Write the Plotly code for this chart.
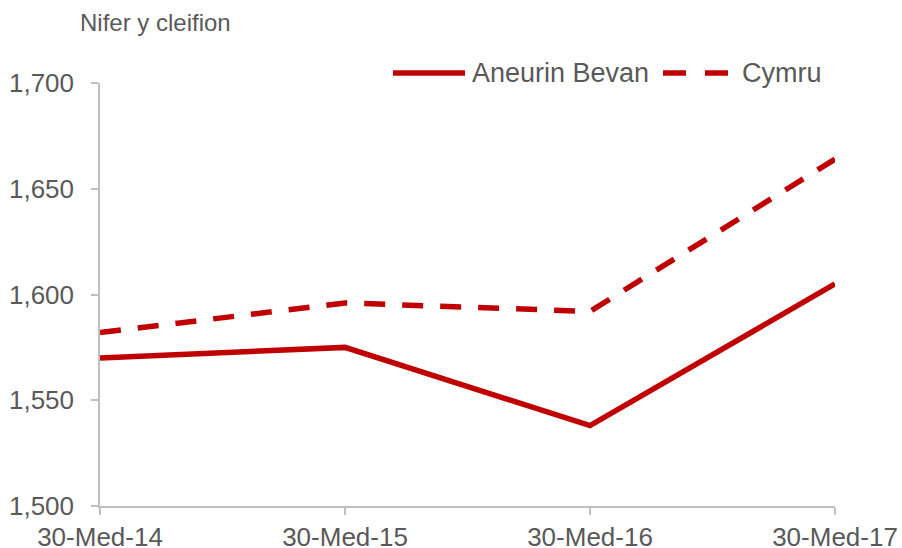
import plotly.graph_objects as go

categories = ["30-Med-14", "30-Med-15", "30-Med-16", "30-Med-17"]
aneurin_bevan = [1570, 1575, 1538, 1605]
cymru = [1582, 1596, 1592, 1664]
y_ticks = [1500, 1550, 1600, 1650, 1700]
series_names = ["Aneurin Bevan", "Cymru"]

x_pos = list(range(len(categories)))
red = "#C00000"
grey_text = "#595959"
axis_col = "#BFBFBF"
font_family = "Liberation Sans, Arial, sans-serif"
LW = 5.5

fig = go.Figure()
fig.add_trace(go.Scatter(x=x_pos, y=aneurin_bevan, mode="lines", name=series_names[0],
                         line=dict(color=red, width=LW)))
fig.add_trace(go.Scatter(x=x_pos, y=cymru, mode="lines", name=series_names[1],
                         line=dict(color=red, width=LW, dash="21px,17px")))

fig.update_layout(
    width=902, height=548,
    margin=dict(l=100, r=67, t=83, b=42, autoexpand=False),
    paper_bgcolor="white", plot_bgcolor="white",
    font=dict(family=font_family, color=grey_text, size=26),
    showlegend=False,
)

# custom legend (paper coordinates)
leg_y = 1.0236
fig.add_shape(type="line", xref="paper", yref="paper", x0=0.3986, x1=0.4966, y0=leg_y, y1=leg_y,
              line=dict(color=red, width=LW))
fig.add_annotation(text=series_names[0], xref="paper", yref="paper", x=0.5034, y=leg_y,
                   xanchor="left", yanchor="middle", showarrow=False,
                   font=dict(size=27, color=grey_text))
fig.add_shape(type="line", xref="paper", yref="paper", x0=0.766, x1=0.8544, y0=leg_y, y1=leg_y,
              line=dict(color=red, width=LW, dash="23px,19px"))
fig.add_annotation(text=series_names[1], xref="paper", yref="paper", x=0.8707, y=leg_y,
                   xanchor="left", yanchor="middle", showarrow=False,
                   font=dict(size=27, color=grey_text))

fig.add_annotation(text="Nifer y cleifion", xref="paper", yref="paper",
                   x=-0.0299, y=1.144, xanchor="left", yanchor="middle", showarrow=False,
                   font=dict(size=24, color=grey_text))

fig.update_xaxes(range=[0, 3], tickvals=x_pos, ticktext=categories, showgrid=False,
                 showline=True, linecolor=axis_col, linewidth=1.5,
                 ticks="outside", ticklen=7, tickcolor=axis_col, tickwidth=1.5,
                 automargin=False,
                 tickfont=dict(size=26, color=grey_text), zeroline=False)
fig.update_yaxes(range=[1500, 1700], tickvals=y_ticks, tickformat=",", showgrid=False,
                 showline=True, linecolor=axis_col, linewidth=1.5,
                 ticks="outside", ticklen=7, tickcolor=axis_col, tickwidth=1.5,
                 ticklabelstandoff=12, automargin=False,
                 tickfont=dict(size=26, color=grey_text), zeroline=False)

fig.write_html("out.html", config={"displayModeBar": False},
               post_script="document.body.style.margin='0px';document.body.style.padding='0px';")
